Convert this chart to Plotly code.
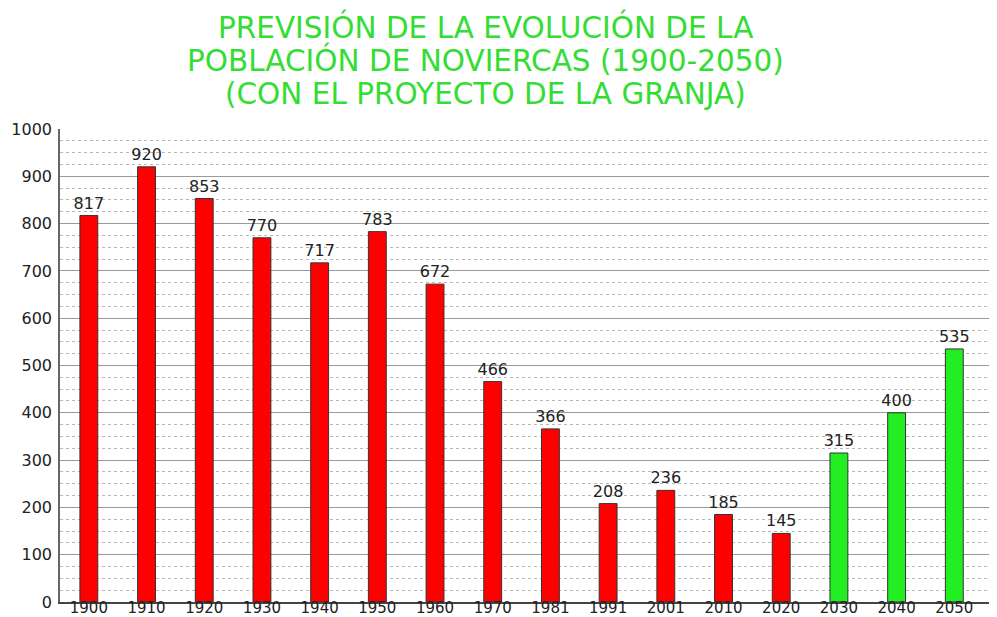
import plotly.graph_objects as go

years = ["1900", "1910", "1920", "1930", "1940", "1950", "1960", "1970", "1981",
         "1991", "2001", "2010", "2020", "2030", "2040", "2050"]
population = [817, 920, 853, 770, 717, 783, 672, 466, 366, 208, 236, 185, 145, 315, 400, 535]
projected = [False] * 13 + [True] * 3
title_lines = ["PREVISIÓN DE LA EVOLUCIÓN DE LA",
               "POBLACIÓN DE NOVIERCAS (1900-2050)",
               "(CON EL PROYECTO DE LA GRANJA)"]

FONT = "DejaVu Sans, Verdana, sans-serif"
colors = ["#22ee22" if p else "#ff0000" for p in projected]

# page body has an 8px default margin, so the figure is a bit smaller
W, H = 989, 609
L, R, T, B = 52, 0, 121, 15
plot_h = H - T - B
plot_w = W - L - R

fig = go.Figure()
fig.add_trace(go.Bar(
    x=years, y=population,
    marker=dict(color=colors, line=dict(color="#333333", width=1)),
    width=0.31,
    text=[str(v) for v in population],
    textposition="outside",
    constraintext="none",
    textfont=dict(family=FONT, size=16, color="#222222"),
    cliponaxis=False,
))

title_centers = [19, 52, 86]
for line, yc in zip(title_lines, title_centers):
    fig.add_annotation(
        text=line, xref="paper", yref="paper",
        x=(477 - L) / plot_w, xanchor="center",
        y=(H - B - yc) / plot_h, yanchor="middle",
        showarrow=False,
        font=dict(family=FONT, size=29.5, color="#33dd33"),
    )

fig.update_layout(
    width=W, height=H,
    paper_bgcolor="white", plot_bgcolor="white",
    margin=dict(l=L, r=R, t=T, b=B, autoexpand=False),
    showlegend=False,
    font=dict(family=FONT, size=16, color="#222222"),
)

fig.update_yaxes(
    range=[0, 1000], dtick=100, tickmode="linear",
    showgrid=True, gridcolor="#9a9a9a", gridwidth=1,
    minor=dict(dtick=25, showgrid=True, gridcolor="#b8b8b8", griddash="dot", gridwidth=1),
    showline=True, linecolor="#666666", linewidth=1.5,
    zeroline=False, ticks="", ticklabelstandoff=3, automargin=False,
    tickfont=dict(family=FONT, size=16, color="#222222"),
)
fig.update_xaxes(
    showline=True, linecolor="#444444", linewidth=1.5,
    showgrid=False, ticks="", ticklabelstandoff=-9, automargin=False,
    tickfont=dict(family=FONT, size=15, color="#222222"),
    type="category", range=[-0.5, 15.74],
)

fig.write_html("out.html")
